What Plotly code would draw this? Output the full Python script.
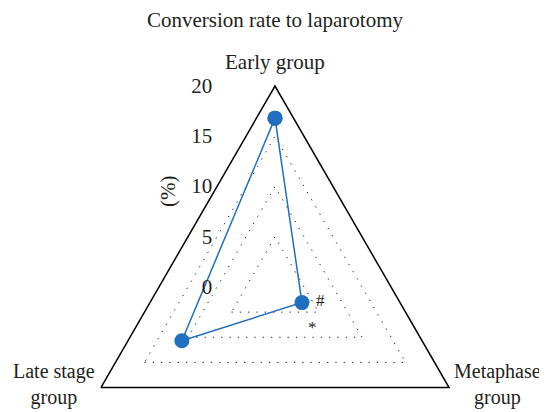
import plotly.graph_objects as go

# ---- data ----
categories = ["Early group", "Metaphase<br>group", "Late stage<br>group"]
conversion_rate = [16.8, 3.1, 10.7]          # %
radial_tick_values = [0, 5, 10, 15, 20]
radial_tick_labels = ["0", "5", "10", "15", "20"]
r_max = 20
chart_title = "Conversion rate to laparotomy"
axis_title = "(%)"
sig_marks = ["#", "*"]

SERIF = "Liberation Serif"
BLUE = "#1f6ebf"
INK = "#231f20"
FS = 21

# The square polar domain is taller than the visible window; only its
# upper part (which holds the whole triangle) is shown.
W, H = 547, 520
ML, MR, MT, MB = 66, 79, 78, 40
plot_w, plot_h = W - ML - MR, H - MT - MB


def px(fx):
    return (fx - ML) / plot_w


def py(fy):
    return (H - MB - fy) / plot_h


closed_theta = categories + [categories[0]]

fig = go.Figure()
fig.add_trace(go.Scatterpolar(
    r=conversion_rate + [conversion_rate[0]], theta=closed_theta,
    mode="lines+markers",
    line=dict(color=BLUE, width=1.5),
    marker=dict(color=BLUE, size=15),
    showlegend=False, cliponaxis=False))

lab_font = dict(family=SERIF, size=FS, color=INK)
side_font = dict(family=SERIF, size=20, color=INK)
mark_font = dict(family=SERIF, size=17, color=INK)

fig.update_layout(
    width=W, height=H,
    margin=dict(l=ML, r=MR, t=MT, b=MB),
    paper_bgcolor="white",
    font=lab_font,
    title=dict(text=chart_title, x=0.5, xref="paper", xanchor="center",
               y=1 - 11.5 / H, yref="container", yanchor="middle", font=lab_font),
    polar=dict(
        bgcolor="white",
        gridshape="linear",
        angularaxis=dict(
            rotation=90, direction="clockwise", type="category",
            categoryorder="array", categoryarray=categories,
            showline=True, linecolor="black", linewidth=1.5,
            showgrid=False, ticks="", showticklabels=False,
        ),
        radialaxis=dict(
            range=[0, r_max], angle=90, side="counterclockwise",
            tickmode="array", tickvals=radial_tick_values, ticktext=radial_tick_labels,
            ticks="outside", ticklen=55, tickcolor="rgba(0,0,0,0)",
            tickangle=90,
            showline=False,
            showgrid=True, gridcolor=INK, gridwidth=1.3, griddash="1.3px,7px",
            tickfont=lab_font,
        ),
    ),
    annotations=[
        dict(text=categories[0], x=px(267), y=py(54), xref="paper", yref="paper",
             xanchor="center", yanchor="middle", showarrow=False, font=lab_font),
        dict(text=categories[1], x=px(444), y=py(376), xref="paper", yref="paper",
             xanchor="left", yanchor="middle", align="center", showarrow=False, font=side_font),
        dict(text=categories[2], x=px(89), y=py(376), xref="paper", yref="paper",
             xanchor="right", yanchor="middle", align="center", showarrow=False, font=side_font),
        dict(text=axis_title, x=px(160), y=py(184), xref="paper", yref="paper",
             xanchor="center", yanchor="middle",
             textangle=-90, showarrow=False, font=lab_font),
        dict(text=sig_marks[0], x=px(312), y=py(292), xref="paper", yref="paper",
             xanchor="center", yanchor="middle", showarrow=False, font=mark_font),
        dict(text=sig_marks[1], x=px(304), y=py(319), xref="paper", yref="paper",
             xanchor="center", yanchor="middle", showarrow=False, font=mark_font),
    ],
)

fig.write_html("out.html")
